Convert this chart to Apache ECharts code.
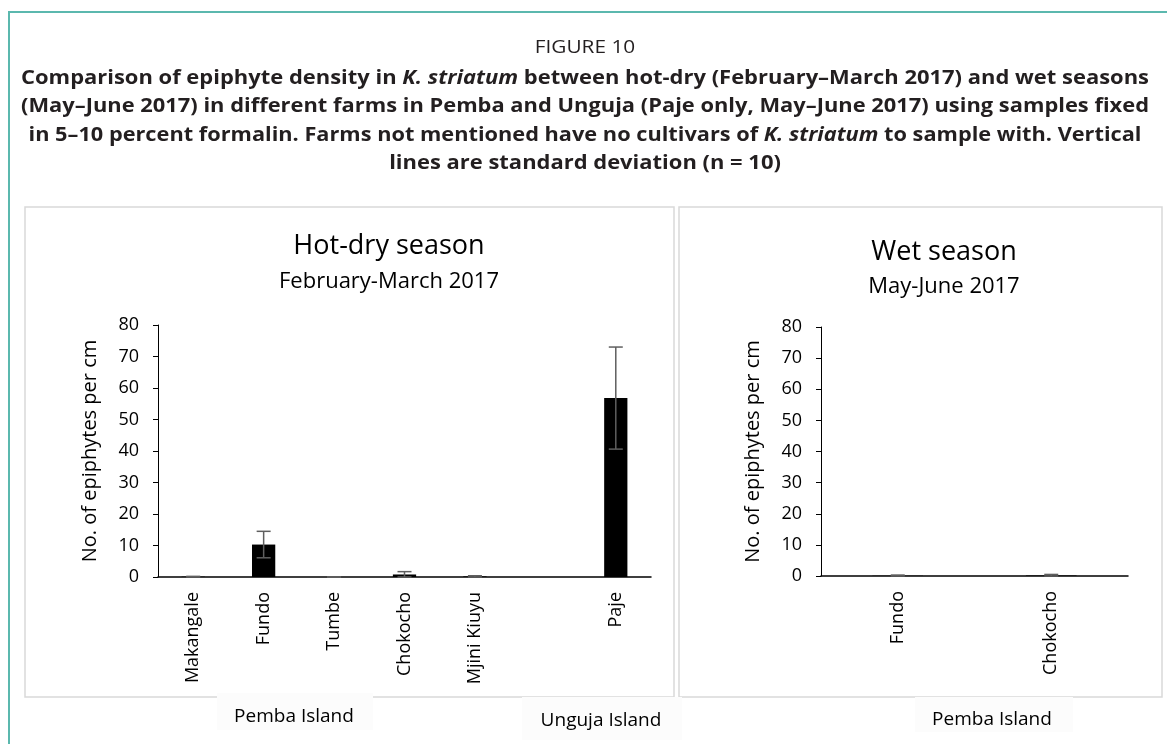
<!DOCTYPE html>
<html>
<head>
<meta charset="utf-8">
<title>Figure 10</title>
<script src="https://cdn.jsdelivr.net/npm/echarts@6/dist/echarts.min.js"></script>
<style>
  html, body { margin: 0; padding: 0; background: #fff; }
  #main { width: 1167px; height: 744px; }
</style>
</head>
<body>
<div id="main"></div>
<script>
// hot-dry season, February-March 2017
var hotFarms = ['Makangale', 'Fundo', 'Tumbe', 'Chokocho', 'Mjini Kiuyu', '', 'Paje'];
var hotMean = [0.1, 10.3, 0, 0.8, 0.2, null, 56.8];
var hotSd = [0.1, 4.2, 0, 0.9, 0.2, null, 16.2];
// wet season, May-June 2017
var wetFarms = ['Fundo', 'Chokocho'];
var wetMean = [0.1, 0.2];
var wetSd = [0.2, 0.3];
// y axis ticks (same on both panels)
var yTicks = [0, 10, 20, 30, 40, 50, 60, 70, 80];

var FONT = '"Open Sans", "Noto Sans", sans-serif';
var TXT = '#000';

// caption lines, [text, italic]
var captionLines = [
  [['Comparison of epiphyte density in ', 0], ['K. striatum', 1], [' between hot-dry (February\u2013March 2017) and wet seasons', 0]],
  [['(May\u2013June 2017) in different farms in Pemba and Unguja (Paje only, May\u2013June 2017) using samples fixed', 0]],
  [['in 5\u201310 percent formalin. Farms not mentioned have no cultivars of ', 0], ['K. striatum', 1], [' to sample with. Vertical', 0]],
  [['lines are standard deviation (n = 10)', 0]]
];
var captionWidth = [1128, 1128, 1113, null];
var captionY = [79, 107, 136, 164];

var chart = echarts.init(document.getElementById('main'));

// measure caption so it can be squeezed like the condensed original
var ctx = document.createElement('canvas').getContext('2d');
function lineWidth(parts) {
  var w = 0;
  parts.forEach(function (p) {
    ctx.font = (p[1] ? 'italic ' : '') + 'bold 19px ' + FONT;
    w += ctx.measureText(p[0]).width;
  });
  return w;
}
var baseScale = captionWidth[0] / lineWidth(captionLines[0]);

var graphics = [];
// teal outer frame
graphics.push({ type: 'rect', z: -20, shape: { x: 9, y: 12, width: 1200, height: 800 }, style: { fill: '#fff', stroke: '#5bb8ae', lineWidth: 2 } });
// panel frames
graphics.push({ type: 'rect', z: -10, shape: { x: 25, y: 207, width: 649, height: 490 }, style: { fill: '#fff', stroke: '#d9d9d9', lineWidth: 1.5 } });
graphics.push({ type: 'rect', z: -10, shape: { x: 679, y: 207, width: 483, height: 490 }, style: { fill: '#fff', stroke: '#d9d9d9', lineWidth: 1.5 } });

graphics.push({
  type: 'text', x: 585, y: 48, scaleX: baseScale,
  style: { text: 'FIGURE 10', font: '18px ' + FONT, fill: '#231f20', textAlign: 'center', textVerticalAlign: 'middle' }
});
captionLines.forEach(function (parts, i) {
  var s = captionWidth[i] ? captionWidth[i] / lineWidth(parts) : baseScale;
  var txt = parts.map(function (p) { return '{' + (p[1] ? 'i' : 'n') + '|' + p[0] + '}'; }).join('');
  graphics.push({
    type: 'text', x: 585, y: captionY[i], scaleX: s,
    style: {
      text: txt, textAlign: 'center', textVerticalAlign: 'middle',
      rich: {
        n: { fontFamily: FONT, fontSize: 19, fontWeight: 'bold', fill: '#231f20', color: '#231f20' },
        i: { fontFamily: FONT, fontSize: 19, fontWeight: 'bold', fontStyle: 'italic', fill: '#231f20', color: '#231f20' }
      }
    }
  });
});

// panel titles
function title(x, y, text, size) {
  graphics.push({ type: 'text', x: x, y: y, style: { text: text, font: size + 'px ' + FONT, fill: TXT, textAlign: 'center', textVerticalAlign: 'middle' } });
}
title(389, 246, 'Hot-dry season', 27);
title(389, 282, 'February-March 2017', 22);
title(944, 252, 'Wet season', 27);
title(944, 287, 'May-June 2017', 22);

// island labels on white boxes
function island(bx, by, bw, bh, cx, cy, text) {
  graphics.push({ type: 'rect', z: 50, shape: { x: bx, y: by, width: bw, height: bh }, style: { fill: '#fcfcfc' } });
  graphics.push({ type: 'text', z: 51, x: cx, y: cy, style: { text: text, font: '19px ' + FONT, fill: TXT, textAlign: 'center', textVerticalAlign: 'middle' } });
}
island(217, 693, 156, 37, 294, 717, 'Pemba Island');
island(522, 697, 160, 43, 601, 721, 'Unguja Island');
island(915, 697, 158, 35, 992, 720, 'Pemba Island');

function yAxis(idx) {
  return {
    type: 'value', gridIndex: idx,
    min: yTicks[0], max: yTicks[yTicks.length - 1], interval: yTicks[1] - yTicks[0],
    name: 'No. of epiphytes per cm', nameLocation: 'middle', nameGap: 58, nameRotate: 90,
    nameTextStyle: { fontFamily: FONT, fontSize: 20, color: TXT },
    axisLine: { show: true, lineStyle: { color: '#000', width: 1 } },
    axisTick: { show: true, length: 5, lineStyle: { color: '#000', width: 1 } },
    axisLabel: { fontFamily: FONT, fontSize: 18, color: TXT, margin: 19 },
    splitLine: { show: false }
  };
}
function xAxis(idx, cats) {
  return {
    type: 'category', gridIndex: idx, data: cats,
    axisTick: { show: false },
    axisLine: { show: true, lineStyle: { color: '#000', width: 1.5 } },
    axisLabel: { rotate: 90, interval: 0, fontFamily: FONT, fontSize: 18, color: TXT, margin: 15 }
  };
}

function errorSeries(idx, means, sds) {
  var data = [];
  means.forEach(function (m, i) {
    if (m == null) return;
    data.push([i, Math.max(0, m - sds[i]), m + sds[i]]);
  });
  return {
    type: 'custom', xAxisIndex: idx, yAxisIndex: idx, z: 5, silent: true,
    encode: { x: 0, y: [1, 2] },
    data: data,
    renderItem: function (params, api) {
      var lo = api.coord([api.value(0), api.value(1)]);
      var hi = api.coord([api.value(0), api.value(2)]);
      var w = 7;
      var st = { stroke: '#5f5f5f', lineWidth: 1.5 };
      return {
        type: 'group',
        children: [
          { type: 'line', shape: { x1: hi[0], y1: hi[1], x2: lo[0], y2: lo[1] }, style: st },
          { type: 'line', shape: { x1: hi[0] - w, y1: hi[1], x2: hi[0] + w, y2: hi[1] }, style: st },
          { type: 'line', shape: { x1: lo[0] - w, y1: lo[1], x2: lo[0] + w, y2: lo[1] }, style: st }
        ]
      };
    }
  };
}

var option = {
  backgroundColor: '#fff',
  animation: false,
  graphic: graphics,
  grid: [
    { left: 158, right: 516, top: 325, bottom: 167, containLabel: false, outerBoundsMode: 'none' },
    { left: 821, right: 39, top: 327, bottom: 168, containLabel: false, outerBoundsMode: 'none' }
  ],
  xAxis: [xAxis(0, hotFarms), xAxis(1, wetFarms)],
  yAxis: [yAxis(0), yAxis(1)],
  series: [
    { type: 'bar', xAxisIndex: 0, yAxisIndex: 0, data: hotMean, barWidth: '33%', itemStyle: { color: '#000' } },
    { type: 'bar', xAxisIndex: 1, yAxisIndex: 1, data: wetMean, barWidth: '33%', itemStyle: { color: '#000' } },
    errorSeries(0, hotMean, hotSd),
    errorSeries(1, wetMean, wetSd)
  ]
};
chart.setOption(option);
</script>
</body>
</html>
